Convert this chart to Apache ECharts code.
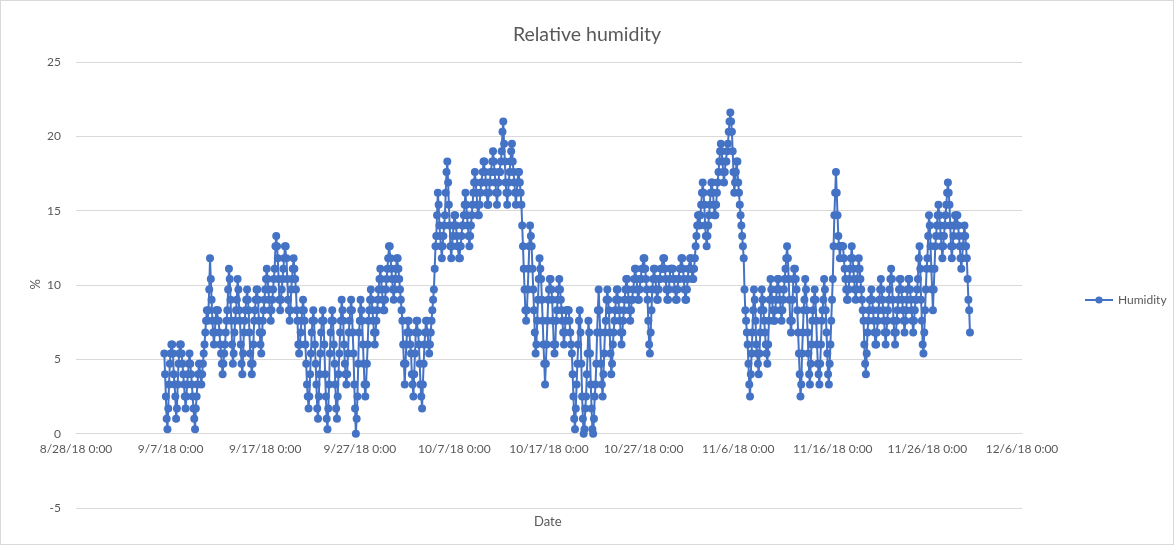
<!DOCTYPE html>
<html>
<head>
<meta charset="utf-8">
<script src="https://cdn.jsdelivr.net/npm/echarts@6/dist/echarts.min.js"></script>
<style>
  html, body { margin: 0; padding: 0; background: #fff; }
  #chart { width: 1174px; height: 545px; box-sizing: border-box; border: 1px solid #d9d9d9; }
</style>
</head>
<body>
<div id="chart"></div>
<script>
// x values are Excel date serials (days since 12/30/1899), so 8/28/18 = 43340
const xMin = 43340
const xMax = 43440
const xStep = 10
const yTicks = [-5, 0, 5, 10, 15, 20, 25]

// readings every 2 hours, first one on 9/6/18 8:00
const startSerial = 43349 + 8 / 24
const stepDays = 2 / 24

// relative humidity (%), one line per day
const humidity = [
  5.4, 4.0, 2.5, 1.0, 0.3, 1.7, 3.3, 4.7,
  5.4, 6.0, 6.0, 5.4, 4.0, 3.3, 2.5, 1.0, 1.7, 3.3, 4.7, 5.4,
  6.0, 6.0, 5.4, 4.7, 4.0, 3.3, 2.5, 1.7, 2.5, 3.3, 4.0, 4.7,
  5.4, 4.7, 4.0, 3.3, 2.5, 1.7, 1.0, 0.3, 1.7, 2.5, 3.3, 4.0,
  4.7, 4.7, 4.0, 3.3, 4.0, 4.7, 5.4, 6.0, 6.8, 7.6, 8.3, 7.6,
  8.3, 9.7, 11.8, 10.4, 9.0, 7.6, 6.8, 6.0, 6.8, 7.6, 8.3, 8.3,
  8.3, 7.6, 6.8, 6.0, 5.4, 4.7, 4.0, 4.7, 5.4, 6.0, 6.8, 7.6,
  8.3, 9.7, 11.1, 10.4, 9.0, 7.6, 6.0, 4.7, 5.4, 6.8, 7.6, 8.3,
  9.0, 10.4, 9.7, 8.3, 7.6, 6.0, 4.7, 4.0, 5.4, 6.8, 7.6, 8.3,
  9.0, 9.7, 9.0, 8.3, 6.8, 5.4, 4.7, 4.0, 4.7, 6.0, 7.6, 8.3,
  9.0, 9.7, 9.7, 9.0, 7.6, 6.8, 6.0, 5.4, 6.8, 7.6, 8.3, 9.0,
  9.7, 10.4, 11.1, 10.4, 9.7, 9.0, 8.3, 7.6, 8.3, 9.0, 9.7, 10.4,
  11.1, 12.6, 13.3, 12.6, 11.8, 10.4, 9.0, 8.3, 9.0, 9.7, 10.4, 11.1,
  11.8, 12.6, 12.6, 11.8, 10.4, 9.0, 8.3, 7.6, 8.3, 9.7, 10.4, 11.1,
  11.8, 11.1, 10.4, 9.7, 8.3, 7.6, 6.0, 5.4, 6.0, 6.8, 7.6, 8.3,
  9.0, 8.3, 7.6, 6.0, 4.7, 3.3, 2.5, 1.7, 2.5, 4.0, 5.4, 6.8,
  7.6, 8.3, 7.6, 6.0, 4.7, 3.3, 1.7, 1.0, 2.5, 4.0, 5.4, 6.8,
  7.6, 8.3, 7.6, 6.0, 4.0, 2.5, 1.0, 0.3, 1.7, 3.3, 5.4, 6.8,
  7.6, 8.3, 7.6, 6.0, 4.7, 3.3, 1.7, 1.0, 2.5, 4.0, 5.4, 6.8,
  7.6, 9.0, 8.3, 7.6, 6.0, 4.7, 4.0, 3.3, 4.0, 5.4, 6.8, 7.6,
  8.3, 9.0, 8.3, 6.8, 5.4, 3.3, 1.7, 0.0, 1.0, 2.5, 4.7, 6.8,
  7.6, 9.0, 8.3, 7.6, 6.0, 4.7, 3.3, 2.5, 3.3, 4.7, 6.0, 7.6,
  8.3, 9.0, 9.7, 9.0, 8.3, 7.6, 6.8, 6.0, 6.8, 7.6, 8.3, 9.0,
  9.7, 10.4, 11.1, 10.4, 9.7, 9.0, 8.3, 8.3, 9.0, 9.7, 10.4, 11.1,
  11.8, 12.6, 12.6, 11.8, 11.1, 10.4, 9.7, 9.0, 9.7, 10.4, 11.1, 11.8,
  11.8, 11.1, 10.4, 9.7, 9.0, 8.3, 7.6, 6.0, 4.7, 3.3, 4.7, 6.0,
  6.8, 7.6, 7.6, 6.8, 6.0, 5.4, 4.0, 3.3, 2.5, 4.0, 5.4, 6.8,
  7.6, 7.6, 6.8, 6.0, 4.7, 3.3, 2.5, 1.7, 3.3, 4.7, 6.0, 6.8,
  7.6, 7.6, 6.8, 6.0, 5.4, 6.0, 6.8, 7.6, 8.3, 9.0, 9.7, 11.1,
  12.6, 13.3, 14.7, 16.2, 15.4, 14.0, 13.3, 12.6, 11.8, 12.6, 13.3, 14.0,
  14.7, 16.2, 17.6, 18.3, 16.9, 15.4, 14.0, 12.6, 11.8, 12.6, 13.3, 14.0,
  14.7, 14.7, 14.0, 13.3, 12.6, 12.6, 11.8, 11.8, 12.6, 13.3, 14.0, 14.0,
  14.7, 15.4, 16.2, 15.4, 14.7, 14.0, 13.3, 12.6, 13.3, 14.0, 14.7, 15.4,
  16.2, 16.9, 17.6, 16.9, 16.2, 15.4, 14.7, 14.7, 15.4, 16.2, 16.9, 16.9,
  17.6, 18.3, 18.3, 17.6, 16.9, 16.2, 15.4, 15.4, 16.2, 16.9, 17.6, 17.6,
  18.3, 19.0, 18.3, 17.6, 16.9, 16.2, 15.4, 16.2, 16.9, 17.6, 17.6, 18.3,
  19.0, 20.3, 21.0, 19.5, 18.3, 16.9, 16.2, 15.4, 16.2, 16.9, 17.6, 18.3,
  19.0, 19.5, 18.3, 17.6, 16.9, 16.2, 15.4, 16.2, 16.9, 17.6, 17.6, 16.9,
  16.2, 15.4, 14.0, 12.6, 11.1, 9.7, 8.3, 7.6, 8.3, 9.7, 11.1, 12.6,
  14.0, 13.3, 12.6, 11.1, 9.7, 8.3, 6.8, 5.4, 6.0, 7.6, 9.0, 10.4,
  11.8, 11.1, 10.4, 9.0, 7.6, 6.0, 4.7, 3.3, 4.7, 6.0, 7.6, 9.0,
  9.7, 10.4, 10.4, 9.7, 9.0, 7.6, 6.0, 5.4, 6.0, 7.6, 8.3, 9.0,
  9.7, 10.4, 9.7, 9.0, 8.3, 7.6, 6.8, 6.0, 6.8, 7.6, 8.3, 8.3,
  8.3, 8.3, 7.6, 6.8, 6.0, 5.4, 4.0, 2.5, 1.0, 0.3, 1.7, 3.3,
  4.7, 6.0, 7.6, 8.3, 6.8, 4.7, 2.5, 1.0, 0.0, 0.3, 1.7, 2.5,
  4.0, 5.4, 7.6, 6.8, 5.4, 3.3, 1.7, 0.3, 0.0, 1.0, 2.5, 3.3,
  4.7, 6.8, 8.3, 9.7, 8.3, 6.8, 4.7, 3.3, 2.5, 4.0, 5.4, 6.8,
  7.6, 9.0, 9.7, 9.0, 8.3, 6.8, 5.4, 4.0, 4.7, 6.0, 6.8, 7.6,
  8.3, 9.0, 9.7, 9.7, 9.0, 8.3, 7.6, 6.8, 6.0, 6.8, 7.6, 8.3,
  9.0, 9.7, 10.4, 10.4, 9.7, 9.0, 8.3, 7.6, 8.3, 9.0, 9.0, 9.7,
  10.4, 11.1, 11.1, 10.4, 9.7, 9.0, 9.0, 9.7, 10.4, 10.4, 11.1, 11.1,
  11.8, 11.8, 11.1, 10.4, 9.7, 9.0, 7.6, 6.0, 5.4, 6.8, 8.3, 9.7,
  10.4, 11.1, 11.1, 10.4, 9.7, 9.0, 9.0, 9.7, 10.4, 10.4, 11.1, 11.1,
  11.1, 11.8, 11.8, 11.1, 10.4, 9.7, 9.0, 9.0, 9.7, 10.4, 11.1, 11.1,
  11.1, 11.1, 10.4, 10.4, 9.7, 9.0, 9.0, 9.7, 10.4, 10.4, 11.1, 11.1,
  11.8, 11.8, 11.1, 10.4, 9.7, 9.0, 9.0, 9.7, 10.4, 11.1, 11.1, 11.8,
  11.8, 11.1, 10.4, 10.4, 11.1, 11.8, 12.6, 13.3, 14.0, 14.7, 14.7, 14.0,
  14.7, 15.4, 16.2, 16.9, 16.2, 15.4, 14.0, 13.3, 12.6, 13.3, 14.0, 14.7,
  15.4, 16.2, 16.9, 16.9, 16.2, 15.4, 14.7, 14.7, 15.4, 16.2, 16.9, 17.6,
  18.3, 19.0, 19.5, 19.0, 18.3, 17.6, 16.9, 17.6, 18.3, 18.3, 19.0, 19.5,
  20.3, 21.0, 21.6, 21.0, 20.3, 19.0, 17.6, 16.2, 16.9, 17.6, 18.3, 18.3,
  16.9, 16.2, 15.4, 14.7, 14.0, 13.3, 12.6, 11.8, 9.7, 8.3, 7.6, 6.8,
  6.0, 4.7, 3.3, 2.5, 4.0, 5.4, 6.8, 8.3, 9.7, 9.0, 7.6, 6.0,
  5.4, 4.7, 4.0, 5.4, 6.8, 8.3, 9.7, 9.0, 8.3, 7.6, 6.8, 6.0,
  5.4, 4.7, 6.0, 7.6, 9.0, 10.4, 9.7, 9.0, 8.3, 7.6, 7.6, 8.3,
  9.0, 9.7, 10.4, 10.4, 9.7, 9.0, 8.3, 7.6, 8.3, 9.0, 9.7, 10.4,
  11.1, 11.8, 12.6, 11.8, 10.4, 9.0, 7.6, 6.8, 7.6, 9.0, 10.4, 11.1,
  11.1, 10.4, 9.7, 8.3, 6.8, 5.4, 4.0, 2.5, 3.3, 5.4, 6.8, 8.3,
  9.0, 10.4, 9.7, 8.3, 6.8, 5.4, 4.0, 3.3, 4.7, 6.0, 7.6, 8.3,
  9.0, 9.7, 9.0, 7.6, 6.0, 4.7, 4.0, 3.3, 4.7, 6.0, 7.6, 8.3,
  9.0, 10.4, 9.7, 8.3, 6.8, 5.4, 4.0, 3.3, 4.7, 6.0, 7.6, 9.0,
  10.4, 12.6, 14.7, 16.2, 17.6, 16.2, 14.7, 13.3, 12.6, 11.8, 12.6, 12.6,
  12.6, 12.6, 11.8, 11.1, 10.4, 9.7, 9.0, 9.0, 9.7, 10.4, 11.1, 11.8,
  12.6, 11.8, 11.1, 10.4, 9.7, 9.0, 9.7, 10.4, 11.1, 11.8, 11.1, 10.4,
  9.7, 9.0, 8.3, 7.6, 6.0, 4.7, 4.0, 5.4, 6.8, 7.6, 8.3, 9.0,
  9.0, 9.7, 9.0, 8.3, 7.6, 6.8, 6.0, 6.0, 6.8, 7.6, 8.3, 9.0,
  9.7, 10.4, 9.7, 9.0, 8.3, 7.6, 6.8, 6.0, 6.8, 7.6, 8.3, 9.0,
  9.7, 10.4, 11.1, 10.4, 9.0, 7.6, 6.8, 6.0, 6.8, 7.6, 8.3, 9.0,
  9.7, 10.4, 10.4, 9.7, 9.0, 8.3, 7.6, 6.8, 7.6, 8.3, 9.0, 9.7,
  10.4, 10.4, 9.7, 9.0, 8.3, 7.6, 6.8, 7.6, 8.3, 9.0, 9.0, 9.7,
  10.4, 11.8, 12.6, 11.1, 9.0, 7.6, 6.0, 5.4, 6.8, 8.3, 9.7, 11.1,
  11.8, 13.3, 14.7, 14.0, 12.6, 11.1, 9.7, 8.3, 9.7, 11.1, 12.6, 13.3,
  14.0, 14.7, 15.4, 14.7, 14.0, 13.3, 12.6, 11.8, 12.6, 13.3, 14.0, 14.7,
  15.4, 16.2, 16.9, 16.2, 15.4, 14.0, 12.6, 11.8, 12.6, 13.3, 14.0, 14.7,
  14.0, 14.7, 14.7, 14.0, 13.3, 12.6, 11.8, 11.1, 11.8, 12.6, 13.3, 14.0,
  13.3, 12.6, 11.8, 10.4, 9.0, 8.3, 6.8
]

const points = humidity.map((v, i) => [startSerial + i * stepDays, v])

function serialLabel(s) {
  const d = new Date(Date.UTC(1899, 11, 30) + Math.round(s) * 86400000)
  return (d.getUTCMonth() + 1) + '/' + d.getUTCDate() + '/' + String(d.getUTCFullYear()).slice(2) + ' 0:00'
}

const textColor = '#595959'
const font = 'Lato, "Open Sans", sans-serif'
const gridTop = 61
const gridBottom = 36
const gridHeight = 545 - gridTop - gridBottom
const yMin = yTicks[0]
const yMax = yTicks[yTicks.length - 1]
// x axis sits on the 0 line, like Excel's "horizontal axis crosses at 0"
const xAxisOffset = -gridHeight * (0 - yMin) / (yMax - yMin)

const chart = echarts.init(document.getElementById('chart'))
chart.setOption({
  animation: false,
  backgroundColor: '#fff',
  textStyle: { fontFamily: font },
  title: {
    text: 'Relative humidity',
    left: 'center',
    top: 19,
    textStyle: { color: textColor, fontSize: 19.5, fontWeight: 'normal', fontFamily: font }
  },
  legend: {
    orient: 'vertical',
    left: 1078,
    top: 288,
    itemWidth: 28,
    itemHeight: 9,
    textStyle: { color: textColor, fontSize: 12, fontFamily: font },
    data: ['Humidity']
  },
  graphic: [
    {
      type: 'text',
      left: 533,
      top: 514,
      style: { text: 'Date', fill: textColor, fontSize: 13, fontFamily: font }
    },
    {
      type: 'text',
      left: 28,
      top: 278,
      rotation: Math.PI / 2,
      style: { text: '%', fill: textColor, fontSize: 13, fontFamily: font }
    }
  ],
  grid: { left: 75, right: 151, top: gridTop, bottom: gridBottom },
  xAxis: {
    type: 'value',
    min: xMin,
    max: xMax,
    interval: xStep,
    position: 'bottom',
    offset: xAxisOffset,
    axisLine: { onZero: false, lineStyle: { color: '#d9d9d9', width: 1 } },
    axisTick: { show: false },
    splitLine: { show: false },
    axisLabel: {
      color: textColor,
      fontSize: 12,
      margin: 10,
      fontFamily: font,
      showMaxLabel: true,
      showMinLabel: true,
      formatter: serialLabel
    }
  },
  yAxis: {
    type: 'value',
    min: yMin,
    max: yMax,
    interval: 5,
    axisLine: { show: false },
    axisTick: { show: false },
    splitLine: { lineStyle: { color: '#d9d9d9', width: 1 } },
    axisLabel: { color: textColor, fontSize: 12, margin: 15, fontFamily: font }
  },
  series: [
    {
      name: 'Humidity',
      type: 'line',
      data: points,
      symbol: 'circle',
      symbolSize: 8,
      showSymbol: true,
      showAllSymbol: true,
      itemStyle: { color: '#4472C4' },
      lineStyle: { color: '#4472C4', width: 2 }
    }
  ]
})
</script>
</body>
</html>
